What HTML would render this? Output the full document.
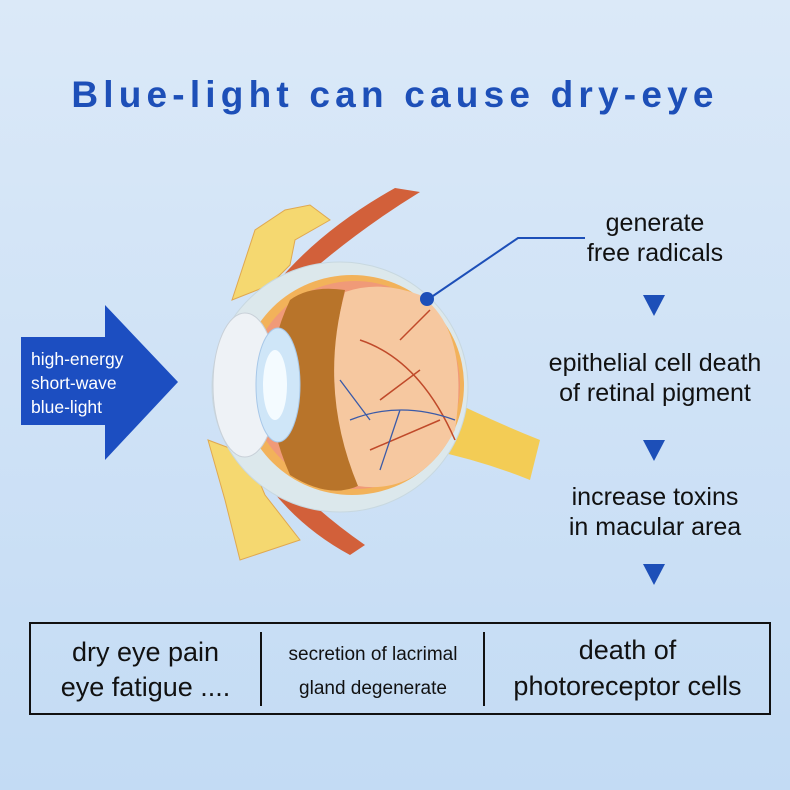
<!DOCTYPE html>
<html><head><style>
body{margin:0;width:790px;height:790px;overflow:hidden;background:linear-gradient(180deg,#dbe9f8 0%,#cfe2f6 50%,#c3dbf4 100%);font-family:"Liberation Sans",sans-serif;position:relative}
.t{position:absolute;text-align:center;color:#111}
</style></head><body>
<div class="t" style="left:0;width:790px;top:74px;font-size:37px;font-weight:bold;color:#1d4fb8;letter-spacing:5.2px">Blue-light can cause dry-eye</div>
<svg width="790" height="790" style="position:absolute;left:0;top:0">
<polygon points="21,337 105,337 105,305 178,382 105,460 105,425 21,425" fill="#1c4ec1"/>
<!-- upper bone/muscle -->
<path d="M232,300 L255,230 L285,210 L310,205 L330,220 L295,240 L290,265 L270,285 Z" fill="#f5d870" stroke="#e0a850"/>
<path d="M275,285 Q320,230 395,188 L420,192 Q350,235 290,290 Z" fill="#d2603a"/>
<!-- lower -->
<path d="M208,440 L225,500 L240,560 L300,540 L265,495 L248,455 Z" fill="#f5d870" stroke="#e0a850"/>
<path d="M248,455 Q285,520 350,555 L365,545 Q300,500 262,448 Z" fill="#d2603a"/>
<!-- optic nerve -->
<path d="M440,395 Q490,420 540,440 L530,480 Q480,460 430,450 Z" fill="#f3cc55"/>
<!-- sclera -->
<ellipse cx="340" cy="387" rx="128" ry="125" fill="#dce8ec" stroke="#c8d8e0"/>
<ellipse cx="352" cy="385" rx="112" ry="110" fill="#f2b25a"/>
<ellipse cx="355" cy="385" rx="105" ry="104" fill="#f09a78"/>
<path d="M290,300 Q250,385 290,475 Q330,500 360,485 Q320,390 345,290 Q310,285 290,300 Z" fill="#b8742a"/>
<path d="M345,292 Q318,390 358,486 Q420,495 455,430 Q470,330 420,295 Q380,280 345,292 Z" fill="#f6c8a0"/>
<g stroke="#c04a2a" stroke-width="1.5" fill="none">
<path d="M455,440 Q420,360 360,340 M420,370 L380,400 M400,340 L430,310 M440,420 L370,450"/>
</g>
<g stroke="#3a5aa8" stroke-width="1.3" fill="none">
<path d="M455,420 Q400,400 350,420 M400,410 L380,470 M370,420 L340,380"/>
</g>
<ellipse cx="245" cy="385" rx="32" ry="72" fill="#eef2f6" stroke="#c8d0d8"/>
<ellipse cx="278" cy="385" rx="22" ry="57" fill="#cfe6f8" stroke="#a8c8e8"/>
<ellipse cx="275" cy="385" rx="12" ry="35" fill="#f4fbff"/>
<polyline points="430,298 518,238 585,238" fill="none" stroke="#1d4fb8" stroke-width="2"/>
<circle cx="427" cy="299" r="7" fill="#1d4fb8"/>
<g fill="#1d4fb8">
<polygon points="643,295 665,295 654,316"/>
<polygon points="643,440 665,440 654,461"/>
<polygon points="643,564 665,564 654,585"/>
</g>
<rect x="30" y="623" width="740" height="91" fill="none" stroke="#111" stroke-width="2"/>
<line x1="261" y1="632" x2="261" y2="706" stroke="#111" stroke-width="2"/>
<line x1="484" y1="632" x2="484" y2="706" stroke="#111" stroke-width="2"/>
</svg>
<div class="t" style="left:31px;top:347px;text-align:left;color:#fff;font-size:17.5px;line-height:24px">high-energy<br>short-wave<br>blue-light</div>
<div class="t" style="left:530px;width:250px;top:208px;font-size:25px;line-height:30px">generate<br>free radicals</div>
<div class="t" style="left:530px;width:250px;top:348px;font-size:25px;line-height:30px">epithelial cell death<br>of retinal pigment</div>
<div class="t" style="left:530px;width:250px;top:482px;font-size:25px;line-height:30px">increase toxins<br>in macular area</div>
<div class="t" style="left:30px;width:231px;top:635px;font-size:27px;line-height:35px">dry eye pain<br>eye fatigue ....</div>
<div class="t" style="left:262px;width:222px;top:638px;font-size:19px;line-height:34px">secretion of lacrimal<br>gland degenerate</div>
<div class="t" style="left:485px;width:285px;top:632px;font-size:27px;line-height:36px">death of<br>photoreceptor cells</div>
</body></html>
